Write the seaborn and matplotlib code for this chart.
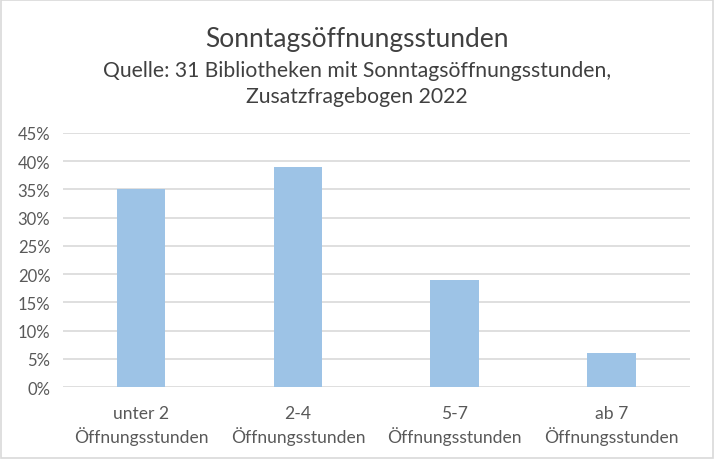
import matplotlib
matplotlib.use("Agg")
import matplotlib.pyplot as plt
import seaborn as sns
import pandas as pd
from matplotlib.ticker import PercentFormatter, MultipleLocator

# Data
categories = ['unter 2\nÖffnungsstunden', '2-4\nÖffnungsstunden',
              '5-7\nÖffnungsstunden', 'ab 7\nÖffnungsstunden']
shares = [0.35, 0.39, 0.19, 0.06]

df = pd.DataFrame({'Kategorie': categories, 'Anteil': shares})

sns.set_theme(style='white')
plt.rcParams['font.family'] = ['Lato', 'DejaVu Sans']

fig = plt.figure(figsize=(7.14, 4.6), dpi=100)
ax = fig.add_axes([0.088, 0.1565, 0.878, 0.5522])

sns.barplot(data=df, x='Kategorie', y='Anteil', color='#9DC3E6',
            width=0.31, saturation=1, linewidth=0, ax=ax, zorder=3)

ax.set_ylim(0, 0.45)
ax.yaxis.set_major_locator(MultipleLocator(0.05))
ax.yaxis.set_major_formatter(PercentFormatter(1.0, decimals=0))
ax.grid(axis='y', color='#D9D9D9', linewidth=1.2, zorder=0)
ax.set_axisbelow(True)
for s in ax.spines.values():
    s.set_visible(False)
ax.tick_params(axis='y', length=0, labelsize=12, colors='#595959', pad=9)
ax.tick_params(axis='x', length=0, labelsize=12.6, colors='#595959', pad=13)
for lbl in ax.get_xticklabels():
    lbl.set_linespacing(1.3)
ax.set_xlabel('')
ax.set_ylabel('')

fig.text(0.5, 0.915, 'Sonntagsöffnungsstunden', ha='center', va='center',
         fontsize=19, color='#404040')
fig.text(0.5, 0.818, 'Quelle: 31 Bibliotheken mit Sonntagsöffnungsstunden,\nZusatzfragebogen 2022',
         ha='center', va='center', fontsize=15.2, color='#404040', linespacing=1.35)

# light border around the chart
fig.patches.append(plt.Rectangle((0.001, 0.002), 0.997, 0.996, transform=fig.transFigure,
                                 fill=False, edgecolor='#D9D9D9', linewidth=1.2))

fig.savefig('out.png', dpi=100)
